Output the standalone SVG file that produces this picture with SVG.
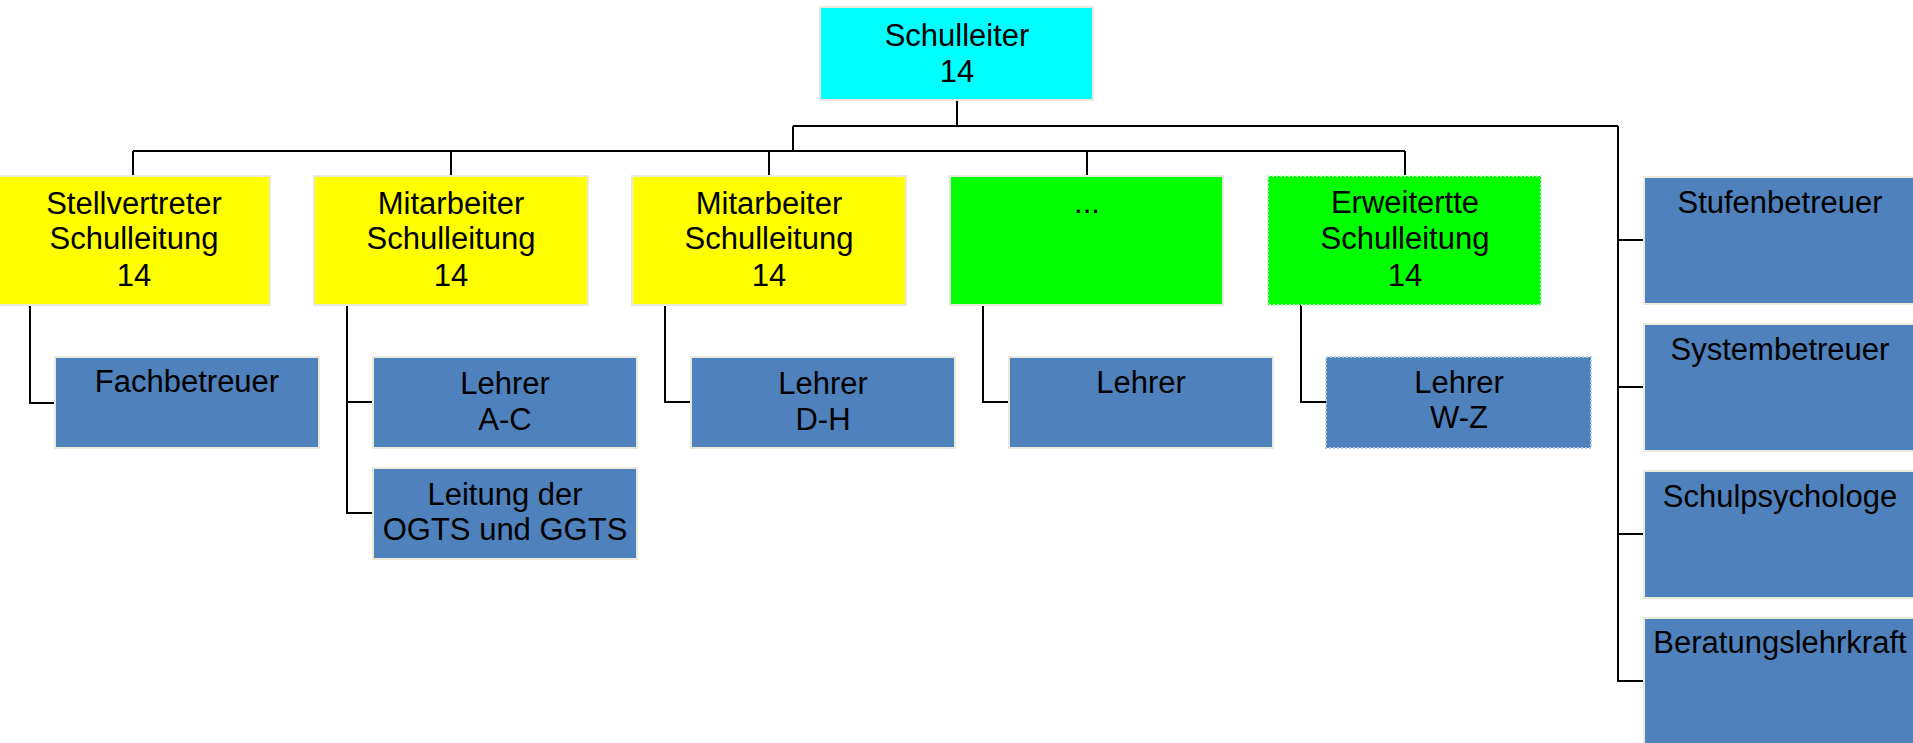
<svg xmlns="http://www.w3.org/2000/svg" width="1913" height="743" viewBox="0 0 1913 743">
<style>
.box{stroke:#ebe8dc;stroke-width:2}
.cyan{fill:#00ffff}
.yellow{fill:#ffff00}
.green{fill:#00ff00}
.blue{fill:#4f81bd}
.dotg{stroke:#c8ffc8;stroke-dasharray:2 2}
.dotb{stroke:#b8cce4;stroke-dasharray:2 2}
text{font-family:"Liberation Sans",Arial,sans-serif;font-size:31px;fill:#000;text-anchor:middle}
.conn{fill:none;stroke:#000;stroke-width:2}
</style>
<rect width="1913" height="743" fill="#fff"/>
<g id="connectors" class="conn">
<path d="M957 100V126M793 126H1618M793 126V151M133 151H1405M133 151V176M451 151V176M769 151V176M1087 151V176M1405 151V176"/>
<path d="M30 305V403H56"/>
<path d="M347 305V513H373M347 402H373"/>
<path d="M665 305V402H691"/>
<path d="M983 305V402H1009"/>
<path d="M1301 305V402H1327"/>
<path d="M1618 126V681H1644M1618 240H1644M1618 387H1644M1618 534H1644"/>
</g>
<g id="schulleiter"><rect class="box cyan" x="820" y="7" width="273" height="93"/><text x="957" y="46">Schulleiter</text><text x="957" y="82">14</text></g>
<g id="stellvertreter"><rect class="box yellow" x="-3" y="176" width="273" height="129"/><text x="134" y="214">Stellvertreter</text><text x="134" y="249">Schulleitung</text><text x="134" y="286">14</text></g>
<g id="mitarbeiter1"><rect class="box yellow" x="314" y="176" width="274" height="129"/><text x="451" y="214">Mitarbeiter</text><text x="451" y="249">Schulleitung</text><text x="451" y="286">14</text></g>
<g id="mitarbeiter2"><rect class="box yellow" x="632" y="176" width="274" height="129"/><text x="769" y="214">Mitarbeiter</text><text x="769" y="249">Schulleitung</text><text x="769" y="286">14</text></g>
<g id="dots"><rect class="box green" x="950" y="176" width="273" height="129"/><text x="1087" y="213">...</text></g>
<g id="erweiterte"><rect class="box green dotg" x="1268" y="176" width="273" height="129"/><text x="1405" y="213">Erweitertte</text><text x="1405" y="249">Schulleitung</text><text x="1405" y="286">14</text></g>
<g id="fachbetreuer"><rect class="box blue" x="55" y="357" width="264" height="91"/><text x="187" y="392">Fachbetreuer</text></g>
<g id="lehrer-ac"><rect class="box blue" x="373" y="357" width="264" height="91"/><text x="505" y="394">Lehrer</text><text x="505" y="430">A-C</text></g>
<g id="leitung-ogts"><rect class="box blue" x="373" y="468" width="264" height="91"/><text x="505" y="505">Leitung der</text><text x="505" y="540">OGTS und GGTS</text></g>
<g id="lehrer-dh"><rect class="box blue" x="691" y="357" width="264" height="91"/><text x="823" y="394">Lehrer</text><text x="823" y="430">D-H</text></g>
<g id="lehrer"><rect class="box blue" x="1009" y="357" width="264" height="91"/><text x="1141" y="393">Lehrer</text></g>
<g id="lehrer-wz"><rect class="box blue dotb" x="1326" y="357" width="265" height="91"/><text x="1459" y="393">Lehrer</text><text x="1459" y="428">W-Z</text></g>
<g id="stufenbetreuer"><rect class="box blue" x="1644" y="177" width="274" height="127"/><text x="1780" y="213">Stufenbetreuer</text></g>
<g id="systembetreuer"><rect class="box blue" x="1644" y="324" width="274" height="127"/><text x="1780" y="360">Systembetreuer</text></g>
<g id="schulpsychologe"><rect class="box blue" x="1644" y="471" width="274" height="127"/><text x="1780" y="507">Schulpsychologe</text></g>
<g id="beratungslehrkraft"><rect class="box blue" x="1644" y="618" width="274" height="127"/><text x="1780" y="653">Beratungslehrkraft</text></g>
</svg>
